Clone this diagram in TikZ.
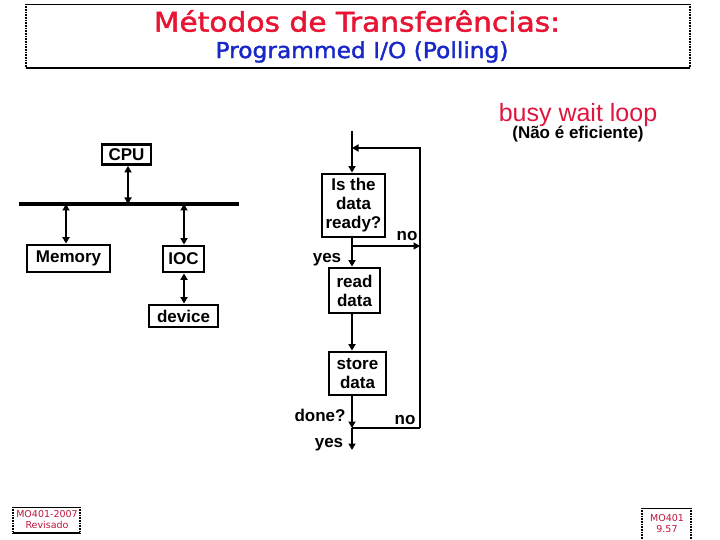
\documentclass[tikz,border=0pt]{standalone}
\usepackage{fontspec}
\setmainfont{Liberation Sans}
\newfontfamily\titlefont[FakeBold=1.6]{DejaVu Sans}
\newfontfamily\footfont{DejaVu Sans}
\usetikzlibrary{arrows.meta}
\definecolor{titlered}{RGB}{232,20,52}
\definecolor{titleblue}{RGB}{24,40,200}
\definecolor{busyred}{RGB}{222,22,62}
\definecolor{footred}{RGB}{190,20,60}
\begin{document}
\begin{tikzpicture}[x=1pt,y=-1pt,
  box/.style={draw,line width=2.8pt,inner sep=0pt,align=center,
    font=\fontsize{17}{19}\selectfont\bfseries},
  conn/.style={line width=2.8pt},
  arr/.style={conn,-{Triangle[length=6.5pt,width=7pt]}},
  dbl/.style={conn,{Triangle[length=6.5pt,width=7pt]}-{Triangle[length=6.5pt,width=7pt]}},
  lbl/.style={inner sep=0pt,font=\fontsize{17}{19}\selectfont\bfseries},
  frame/.style={line width=0.8pt},
  dotframe/.style={line width=1.6pt,dash pattern=on 0.8pt off 0.8pt},
  foot/.style={inner sep=0pt,text=footred,align=center,
    font=\footfont\fontsize{9.5}{11}\selectfont}]
\useasboundingbox (0,0) rectangle (720,540);
% title frame
\coordinate (tTL) at (26,4);
\coordinate (tTR) at (690,4);
\coordinate (tBL) at (26,68);
\coordinate (tBR) at (690,68);
\draw[frame] (tTL) -- (tTR);
\draw[line width=1.6pt] (tBL) -- (tBR);
\draw[dotframe] (tTL) -- (tBL);
\draw[dotframe] (tTR) -- (tBR);
\node[inner sep=0pt,text=titlered] (title) at (357,21)
  {\scalebox{1.1}[1]{\titlefont\fontsize{27}{30}\selectfont Métodos de Transferências:}};
\node[inner sep=0pt,text=titleblue] (subtitle) at (362,52)
  {\scalebox{1.06}[1]{\titlefont\fontsize{22}{25}\selectfont Programmed I/O (Polling)}};
% busy wait loop
\node[inner sep=0pt,text=busyred,font=\fontsize{25}{28}\selectfont] (busy) at (578,115) {busy wait loop};
\node[inner sep=0pt,font=\fontsize{17}{20}\selectfont\bfseries] (nao) at (578,134) {(Não é eficiente)};
% left system diagram
\node[box,minimum width=49pt,minimum height=20pt] (cpu) at (126.5,154.5) {CPU};
\coordinate (busL) at (19,204);
\coordinate (busR) at (239,204);
\draw[line width=3.2pt] (busL) -- (busR);
\node[box,minimum width=83pt,minimum height=27pt] (mem) at (68.5,258.5) {Memory};
\node[box,minimum width=41pt,minimum height=26pt] (ioc) at (183.5,259) {IOC};
\node[box,minimum width=69pt,minimum height=22pt] (dev) at (183.5,316) {device};
\coordinate (busCpu) at (128,204);
\coordinate (busMem) at (66,204);
\coordinate (busIoc) at (184,204);
\draw[dbl] (cpu.south -| busCpu) -- (busCpu);
\draw[dbl] (busMem) -- (mem.north -| busMem);
\draw[dbl] (busIoc) -- (ioc.north -| busIoc);
\draw[dbl] (ioc.south -| busIoc) -- (dev.north -| busIoc);
% flowchart
\node[box,minimum width=63pt,minimum height=63pt] (ready) at (353.5,205.5) {Is the\\data\\ready?};
\node[box,minimum width=51pt,minimum height=45pt] (read) at (354.5,290.5) {read\\data};
\node[box,minimum width=57pt,minimum height=43pt] (store) at (357.5,373.5) {store\\data};
\coordinate (start) at (352,131);
\coordinate (joinTop) at (352,148);
\coordinate (loopTop) at (420,148);
\coordinate (noSplit) at (352,246);
\coordinate (noEnd) at (420,246);
\coordinate (doneJ) at (352,428);
\coordinate (loopBot) at (420,428);
\coordinate (yesEnd) at (352,450);
\draw[arr] (start) -- (start |- ready.north);
\draw[arr] (loopBot) -- (loopTop) -- (joinTop);
\draw[arr] (noSplit) -- (noEnd);
\draw[arr] (start |- ready.south) -- (start |- read.north);
\draw[arr] (start |- read.south) -- (start |- store.north);
\draw[arr] (start |- store.south) -- (doneJ);
\draw[conn] (doneJ) -- (loopBot);
\draw[arr] (doneJ) -- (yesEnd);
\node[lbl] (no1) at (407,236) {no};
\node[lbl] (yes1) at (327,260) {yes};
\node[lbl] (done) at (320,415) {done?};
\node[lbl] (no2) at (405,420) {no};
\node[lbl] (yes2) at (329,445) {yes};
% footers
\coordinate (fLTL) at (13,507);
\coordinate (fLTR) at (80,507);
\coordinate (fLBL) at (13,533);
\coordinate (fLBR) at (80,533);
\draw[frame] (fLTL) -- (fLTR);
\draw[line width=1.2pt] (fLBL) -- (fLBR);
\draw[dotframe] (fLTL) -- (fLBL);
\draw[dotframe] (fLTR) -- (fLBR);
\node[foot] (fl) at (47,520) {MO401-2007\\Revisado};
\coordinate (fRTL) at (642,508);
\coordinate (fRTR) at (691,508);
\coordinate (fRBL) at (642,541);
\coordinate (fRBR) at (691,541);
\draw[frame] (fRTL) -- (fRTR);
\draw[dotframe] (fRTL) -- (fRBL);
\draw[dotframe] (fRTR) -- (fRBR);
\node[foot] (fr) at (667,524) {MO401\\9.57};
\end{tikzpicture}
\end{document}
